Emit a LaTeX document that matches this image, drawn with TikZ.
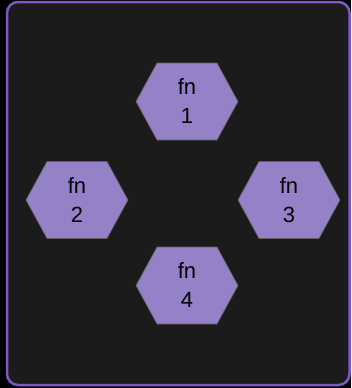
\documentclass[tikz,border=0pt]{standalone}
\usepackage{fontspec}
\setmainfont{Liberation Sans}
\usetikzlibrary{shapes.symbols}
\definecolor{pagebg}{HTML}{000000}
\definecolor{panelbg}{HTML}{1B1B1B}
\definecolor{panelline}{HTML}{7E57C2}
\definecolor{hexfill}{HTML}{9581C8}
\definecolor{hexline}{HTML}{5E5E5E}
\tikzset{
  fnhex/.style={shape=signal, signal to=west and east, signal pointer angle=122.8,
    minimum width=102pt, minimum height=77pt, inner sep=0pt,
    fill=hexfill, draw=hexline, line width=0.6pt,
    align=center, font=\fontsize{22pt}{29pt}\selectfont, text=black},
  panel/.style={fill=panelbg, draw=panelline, line width=2.5pt, rounded corners=11pt}
}
\begin{document}
\begin{tikzpicture}[x=1pt,y=-1pt]
  \useasboundingbox[fill=pagebg] (0,0) rectangle (351,388);
  \draw[panel] (7,2) rectangle (349.5,385);
  \node[fnhex] (f1) at (187,101.5) {fn\\1};
  \node[fnhex] (f2) at (77,200) {fn\\2};
  \node[fnhex] (f3) at (289,200) {fn\\3};
  \node[fnhex] (f4) at (187,285.5) {fn\\4};
\end{tikzpicture}
\end{document}
